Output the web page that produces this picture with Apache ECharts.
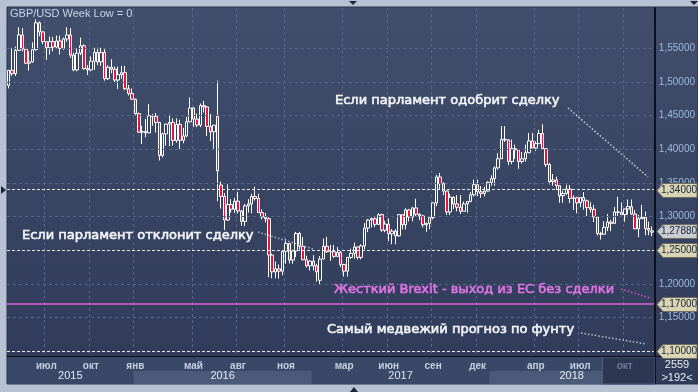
<!DOCTYPE html>
<html><head><meta charset="utf-8">
<script src="https://cdn.jsdelivr.net/npm/echarts@6/dist/echarts.min.js"></script>
<style>html,body{margin:0;padding:0;background:#b6c2d2;overflow:hidden}#c{width:698px;height:392px}</style>
</head><body><div id="c"></div>
<script>
// ---- data ----
const startWeek = '2015-04-20';
const weekCount = 189;
// rows: [open, high, low, close]
const ohlc2015 = [
[1.4950,1.5180,1.4905,1.5175],[1.5175,1.5500,1.5090,1.5125],[1.5125,1.5525,1.5090,1.5470],[1.5470,1.5815,1.5460,1.5700],
[1.5700,1.5800,1.5455,1.5490],[1.5490,1.5510,1.5270,1.5280],[1.5280,1.5460,1.5170,1.5300],[1.5300,1.5590,1.5290,1.5480],
[1.5480,1.5930,1.5470,1.5880],[1.5880,1.5900,1.5680,1.5745],[1.5745,1.5760,1.5560,1.5600],[1.5600,1.5605,1.5330,1.5510],
[1.5510,1.5675,1.5410,1.5600],[1.5600,1.5670,1.5455,1.5520],[1.5520,1.5690,1.5490,1.5610],[1.5610,1.5690,1.5410,1.5500],
[1.5500,1.5660,1.5480,1.5640],[1.5640,1.5815,1.5600,1.5700],[1.5700,1.5800,1.5360,1.5400],[1.5400,1.5435,1.5160,1.5180],
[1.5180,1.5500,1.5160,1.5430],[1.5430,1.5660,1.5400,1.5540],[1.5540,1.5560,1.5180,1.5200],[1.5200,1.5250,1.5105,1.5180],
[1.5180,1.5380,1.5160,1.5310],[1.5310,1.5510,1.5180,1.5440],[1.5440,1.5510,1.5250,1.5300],[1.5300,1.5510,1.5240,1.5440],
[1.5440,1.5500,1.5020,1.5050],[1.5050,1.5250,1.5030,1.5220],[1.5220,1.5340,1.5130,1.5190],[1.5190,1.5230,1.5000,1.5030],
[1.5030,1.5230,1.4895,1.5110],[1.5110,1.5240,1.5050,1.5140],[1.5140,1.5240,1.4880,1.4900],[1.4900,1.4955,1.4800,1.4830],
[1.4830,1.4905,1.4735,1.4745]
];
const ohlc2016 = [
[1.4745,1.4755,1.4515,1.4530],[1.4530,1.4545,1.4245,1.4255],[1.4255,1.4350,1.4080,1.4265],[1.4265,1.4450,1.4180,1.4245],
[1.4245,1.4670,1.4240,1.4500],[1.4500,1.4525,1.4350,1.4490],[1.4490,1.4540,1.4250,1.4400],[1.4400,1.4410,1.3835,1.3910],
[1.3910,1.4250,1.3880,1.4230],[1.4230,1.4380,1.4055,1.4375],[1.4375,1.4515,1.4050,1.4400],[1.4400,1.4460,1.4055,1.4130],
[1.4130,1.4460,1.4100,1.4370],[1.4370,1.4440,1.4005,1.4135],[1.4135,1.4320,1.4090,1.4200],[1.4200,1.4480,1.4180,1.4410],
[1.4410,1.4770,1.4400,1.4615],[1.4615,1.4630,1.4330,1.4450],[1.4450,1.4530,1.4330,1.4360],[1.4360,1.4680,1.4330,1.4650],
[1.4650,1.4720,1.4550,1.4630],[1.4630,1.4640,1.4200,1.4340],[1.4340,1.4520,1.4125,1.4260],[1.4260,1.4355,1.4010,1.4360],
[1.4490,1.5020,1.3230,1.3680],[1.3470,1.3520,1.3120,1.3300],[1.3300,1.3350,1.2800,1.2950],[1.2950,1.3480,1.2935,1.3180],
[1.3180,1.3260,1.3060,1.3110],[1.3110,1.3280,1.3055,1.3230],[1.3230,1.3370,1.3050,1.3085],[1.3085,1.3100,1.2865,1.2930],
[1.2930,1.3190,1.2860,1.3160],[1.3160,1.3260,1.3060,1.3190],[1.3190,1.3340,1.3050,1.3300],[1.3300,1.3445,1.3240,1.3270],
[1.3270,1.3340,1.3055,1.3060],[1.3060,1.3110,1.2960,1.2995],[1.2995,1.3055,1.2915,1.2970],[1.2970,1.2990,1.2100,1.2430],
[1.2430,1.2450,1.2085,1.2180],[1.2180,1.2335,1.2085,1.2225],[1.2225,1.2290,1.2080,1.2190],[1.2190,1.2500,1.2130,1.2485],
[1.2485,1.2670,1.2300,1.2600],[1.2600,1.2610,1.2305,1.2355],[1.2355,1.2510,1.2300,1.2490],[1.2490,1.2775,1.2400,1.2750],
[1.2750,1.2775,1.2510,1.2560],[1.2560,1.2700,1.2350,1.2360],[1.2360,1.2420,1.2245,1.2270],[1.2270,1.2350,1.2200,1.2340]
];
const ohlc2017 = [
[1.2340,1.2430,1.2200,1.2270],[1.2270,1.2300,1.2035,1.2180],[1.2055,1.2415,1.1985,1.2370],[1.2370,1.2675,1.2370,1.2560],
[1.2560,1.2700,1.2460,1.2480],[1.2480,1.2580,1.2345,1.2480],[1.2480,1.2580,1.2385,1.2410],[1.2410,1.2550,1.2410,1.2470],
[1.2470,1.2490,1.2250,1.2290],[1.2290,1.2300,1.2110,1.2190],[1.2190,1.2400,1.2110,1.2395],[1.2395,1.2525,1.2375,1.2455],
[1.2455,1.2615,1.2375,1.2550],[1.2550,1.2555,1.2365,1.2395],[1.2395,1.2590,1.2365,1.2565],[1.2565,1.2905,1.2515,1.2830],
[1.2830,1.2965,1.2770,1.2950],[1.2950,1.2990,1.2840,1.2970],[1.2970,1.2990,1.2845,1.2885],[1.2885,1.3050,1.2880,1.3030],
[1.3030,1.3045,1.2775,1.2800],[1.2800,1.2940,1.2770,1.2890],[1.2890,1.2975,1.2635,1.2745],[1.2745,1.2815,1.2590,1.2785],
[1.2785,1.2815,1.2590,1.2715],[1.2715,1.3030,1.2700,1.3030],[1.3030,1.3030,1.2810,1.2880],[1.2880,1.3125,1.2810,1.3100],
[1.3100,1.3115,1.2930,1.2995],[1.2995,1.3145,1.2930,1.3130],[1.3130,1.3265,1.3010,1.3035],[1.3035,1.3050,1.2950,1.3010],
[1.3010,1.3030,1.2840,1.2880],[1.2880,1.2910,1.2775,1.2900],[1.2900,1.3000,1.2815,1.2985],[1.2985,1.3210,1.2960,1.3205],
[1.3205,1.3620,1.3155,1.3590],[1.3590,1.3650,1.3400,1.3490],[1.3490,1.3510,1.3320,1.3380],[1.3380,1.3390,1.3025,1.3070],
[1.3070,1.3340,1.3025,1.3290],[1.3290,1.3300,1.3115,1.3190],[1.3190,1.3320,1.3080,1.3140],[1.3140,1.3320,1.3040,1.3080],
[1.3080,1.3225,1.3080,1.3190],[1.3190,1.3230,1.3060,1.3225],[1.3225,1.3365,1.3215,1.3325],[1.3325,1.3550,1.3300,1.3475],
[1.3475,1.3550,1.3305,1.3370],[1.3370,1.3455,1.3280,1.3345],[1.3345,1.3445,1.3300,1.3380],[1.3380,1.3525,1.3370,1.3510]
];
const ohlc2018 = [
[1.3510,1.3615,1.3460,1.3565],[1.3565,1.3745,1.3460,1.3725],[1.3725,1.3945,1.3700,1.3860],[1.3860,1.4345,1.3860,1.4150],
[1.4150,1.4345,1.4110,1.4140],[1.4140,1.4150,1.3765,1.3820],[1.3820,1.4145,1.3780,1.4010],[1.4010,1.4070,1.3860,1.3995],
[1.3995,1.4000,1.3710,1.3820],[1.3820,1.3960,1.3790,1.3860],[1.3860,1.4070,1.3820,1.3950],[1.3950,1.4245,1.3945,1.4125],
[1.4125,1.4245,1.4020,1.4020],[1.4020,1.4120,1.3975,1.4085],[1.4085,1.4290,1.4085,1.4235],[1.4235,1.4375,1.4000,1.4010],
[1.4010,1.4015,1.3740,1.3775],[1.3775,1.3795,1.3480,1.3520],[1.3520,1.3635,1.3460,1.3545],[1.3545,1.3595,1.3395,1.3460],
[1.3460,1.3470,1.3205,1.3310],[1.3310,1.3385,1.3205,1.3345],[1.3345,1.3475,1.3325,1.3410],[1.3410,1.3470,1.3205,1.3270],
[1.3270,1.3315,1.3100,1.3280],[1.3280,1.3295,1.3050,1.3205],[1.3205,1.3285,1.3140,1.3285],[1.3285,1.3365,1.3105,1.3235],
[1.3235,1.3255,1.3010,1.3135],[1.3135,1.3215,1.3060,1.3110],[1.3110,1.3175,1.2920,1.2995],[1.2995,1.3000,1.2720,1.2750],
[1.2750,1.2775,1.2660,1.2740],[1.2740,1.2930,1.2730,1.2840],[1.2840,1.3040,1.2785,1.2920],[1.2920,1.2950,1.2785,1.2900],
[1.2900,1.3145,1.2890,1.3070],[1.3070,1.3295,1.3010,1.3065],[1.3065,1.3210,1.3025,1.3030],[1.3030,1.3110,1.2925,1.3115],
[1.3115,1.3255,1.3030,1.3150],[1.3150,1.3255,1.3030,1.3040],[1.3040,1.3100,1.2815,1.2820],[1.2820,1.3025,1.2695,1.2970],
[1.2970,1.3175,1.2965,1.2990],[1.2990,1.3075,1.2725,1.2825],[1.2825,1.2925,1.2725,1.2800],[1.2770,1.2855,1.2710,1.2788]
];
const tickMonths = ['2015-07','2015-10','2016-01','2016-05','2016-08','2016-11','2017-03','2017-06','2017-09','2017-12','2018-04','2018-07','2018-10'];
const monthNames = ['янв','фев','мар','апр','май','июн','июл','авг','сен','окт','ноя','дек'];
const yTicks = [1.10,1.15,1.20,1.25,1.30,1.35,1.40,1.45,1.50,1.55];
const gridValues = [1.15,1.20,1.30,1.35,1.40,1.45,1.50,1.55];
const whiteLevels = [1.34,1.25,1.10];
const pinkLevel = 1.17;
const lastPrice = 1.2788;
const tagValues = [1.34,1.25,1.17,1.10];
const bandYears = ['2016','2018'];
const dimFrom = '2018-08-20';
const titleText = 'GBP/USD Week Low = 0';
const ann1 = 'Если парламент одобрит сделку';
const ann2 = 'Если парламент отклонит сделку';
const ann3 = 'Жесткий Brexit - выход из ЕС без сделки';
const ann4 = 'Самый медвежий прогноз по фунту';
const infoTop = '2559';
const infoBottom = '>192<';

// ---- build ----
function buildWeeks(){
  const out=[]; const d=new Date(startWeek+'T00:00:00Z');
  for(let i=0;i<weekCount;i++){ out.push(d.toISOString().slice(0,10)); d.setUTCDate(d.getUTCDate()+7); }
  return out;
}
const weeks = buildWeeks();
const rows = [].concat(ohlc2015, ohlc2016, ohlc2017, ohlc2018);
const candles = rows.map(r => [r[0], r[3], r[2], r[1]]);
const labelIdx = new Set();
tickMonths.forEach(m => { const i = weeks.findIndex(w => w.slice(0,7)===m); if(i>=0) labelIdx.add(i); });
const fmt = v => v.toFixed(5).replace('.', ',');
const smallFont = 'Liberation Sans, Arial, sans-serif';

const chart = echarts.init(document.getElementById('c'), null, {renderer:'canvas'});
const option = {
  animation:false,
  grid:{left:7,right:43,top:8,bottom:36},
  xAxis:{
    type:'category', data:weeks, boundaryGap:true,
    axisLine:{show:true, lineStyle:{color:'#0c111b', width:1}},
    axisTick:{show:false},
    axisLabel:{
      interval:(i)=>labelIdx.has(i),
      formatter:(v)=>monthNames[+v.slice(5,7)-1],
      color:(v)=> (v >= dimFrom ? '#6d7b97' : '#c3cfe2'),
      fontSize:10, fontWeight:'bold', fontFamily:smallFont, margin:5
    },
    splitLine:{show:true, interval:(i)=>labelIdx.has(i), lineStyle:{color:'#56678b', type:[3,3], width:1}}
  },
  yAxis:{
    type:'value', position:'right', min:1.093, max:1.61, scale:true,
    axisLine:{show:true, lineStyle:{color:'#0c111b', width:1}},
    axisTick:{show:false}, splitLine:{show:false},
    axisLabel:{customValues:yTicks, formatter:fmt, color:'#9fb9dc', fontSize:10, fontFamily:smallFont, margin:5}
  },
  series:[
    {type:'line', data:[], z:1, silent:true,
     markLine:{silent:true, symbol:['none','none'], label:{show:false}, animation:false,
       data: gridValues.map(v=>({yAxis:v, lineStyle:{color:'#56678b', type:[3,3], width:1}}))}},
    {type:'candlestick', data:candles, barWidth:3, z:3,
     itemStyle:{color:'#34415e', color0:'#e8143c', borderColor:'#ffffff', borderColor0:'#ffffff', borderWidth:1},
     markLine:{silent:true, symbol:['none','none'], label:{show:false}, animation:false,
       data: whiteLevels.map(v=>({yAxis:v, lineStyle:{color:'#e6e9ef', type:[3,2], width:1}}))
         .concat([{yAxis:pinkLevel, lineStyle:{color:'#e35fe3', type:'solid', width:1.5}}])}}
  ]
};
chart.setOption(option);

// ---- overlays computed through the axes ----
const px = i => chart.convertToPixel({xAxisIndex:0}, i);
const py = v => chart.convertToPixel({yAxisIndex:0}, v);
const half = (px(1)-px(0))/2;
const plotL = 7, plotR = 655, plotT = 8, plotB = 356, axB = 384, W = 698;
const g = [];
// backgrounds
g.push({type:'rect', z:-100, shape:{x:plotL, y:7, width:W-plotL, height:axB-7},
  style:{fill:{type:'linear',x:0,y:0,x2:0,y2:1,colorStops:[{offset:0,color:'#414e6c'},{offset:1,color:'#2f3b58'}]}, stroke:'#27324a', lineWidth:1}});
g.push({type:'rect', z:-99, shape:{x:plotL+0.5, y:plotB, width:plotR-plotL, height:axB-plotB}, style:{fill:'#3a4867'}});
// year bands and labels
const years = ['2015','2016','2017','2018'];
years.forEach(y => {
  const first = weeks.findIndex(w=>w.startsWith(y));
  let last = -1; weeks.forEach((w,i)=>{ if(w.startsWith(y)) last=i; });
  const x0 = Math.max(plotL, px(first)-half), x1 = Math.min(plotR, px(last)+half);
  if (bandYears.includes(y)) g.push({type:'rect', z:-98, shape:{x:x0, y:371, width:x1-x0, height:axB-371}, style:{fill:'#4b5a79'}});
  g.push({type:'text', z:60, x:(x0+x1)/2, y:376, style:{text:y, fill:'#e2e9f3', font:'11px '+smallFont, align:'center', verticalAlign:'middle'}});
});
// dim region
const dimIdx = weeks.findIndex(w => w >= dimFrom);
const dx0 = px(dimIdx)-half;
g.push({type:'rect', z:-97, shape:{x:dx0, y:plotB+1, width:plotR-dx0, height:axB-plotB-1}, style:{fill:'#2c3752', stroke:'#4e5d7c', lineWidth:1}});
// separators
g.push({type:'line', z:40, shape:{x1:plotR+0.5, y1:7, x2:plotR+0.5, y2:axB}, style:{stroke:'#0c111b', lineWidth:1}});
g.push({type:'line', z:40, shape:{x1:plotR, y1:plotB+0.5, x2:W, y2:plotB+0.5}, style:{stroke:'#0c111b', lineWidth:1}});
// bottom right info
g.push({type:'text', z:60, x:677, y:365, style:{text:infoTop, fill:'#e8eef8', font:'11px '+smallFont, align:'center', verticalAlign:'middle'}});
g.push({type:'text', z:60, x:677, y:378, style:{text:infoBottom, fill:'#e8eef8', font:'11px '+smallFont, align:'center', verticalAlign:'middle'}});
// title
g.push({type:'text', z:60, x:10, y:14, style:{text:titleText, fill:'#c9d5ea', font:'11px '+smallFont, align:'left', verticalAlign:'middle'}});
// price tags
function tag(v, fill){
  const y = Math.round(py(v))+0.5, x0 = 657, x1 = 697;
  g.push({type:'polygon', z:50, shape:{points:[[x0,y],[x0+6,y-7],[x1,y-7],[x1,y+7],[x0+6,y+7]]}, style:{fill:fill, stroke:'#6e6c5c', lineWidth:1}});
  g.push({type:'text', z:51, x:679, y:y, style:{text:fmt(v), fill:'#1b2435', font:'10px '+smallFont, align:'center', verticalAlign:'middle'}});
}
tagValues.forEach(v => tag(v, '#d8d4b4'));
tag(lastPrice, '#c9ccd3');
// small markers
const y134 = Math.round(py(1.34));
g.push({type:'polygon', z:60, shape:{points:[[1,y134-4],[6,y134],[1,y134+4]]}, style:{fill:'#1d2638'}});
g.push({type:'polygon', z:60, shape:{points:[[349,1],[357,1],[353,5]]}, style:{fill:'#1d2638'}});
g.push({type:'polygon', z:60, shape:{points:[[690,1],[698,1],[694,5]]}, style:{fill:'#1d2638'}});
g.push({type:'polygon', z:60, shape:{points:[[350,392],[358,392],[354,387]]}, style:{fill:'#1d2638'}});
// annotations
const annFont = '13px DejaVu Sans, Verdana, sans-serif';
function ann(text, x, y, color){
  g.push({type:'text', z:60, x:x, y:y, style:{text:text, fill:color, stroke:color, lineWidth:0.6, font:annFont, align:'left', verticalAlign:'middle'}});
}
ann(ann1, 335, 101, '#f3f5f9');
ann(ann2, 22, 236, '#f3f5f9');
ann(ann3, 334, 290, '#e274e6');
ann(ann4, 327, 330, '#f3f5f9');
const dotted = (x1,y1,x2,y2,c) => g.push({type:'line', z:55, shape:{x1,y1,x2,y2}, style:{stroke:c, lineWidth:1.5, lineDash:[1.5,2]}});
dotted(568,108,648,177,'#c8cfdb');
dotted(258,232,313,249,'#aab3c2');
dotted(621,289,650,298,'#d24ed6');
dotted(581,333,646,344,'#b9c1ce');
chart.setOption({graphic:g});
</script></body></html>
